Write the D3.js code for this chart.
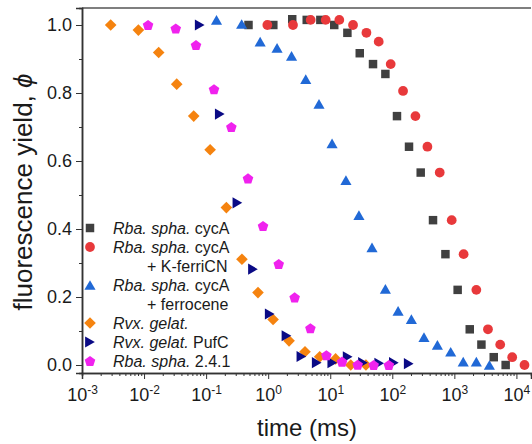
<!DOCTYPE html>
<html>
<head>
<meta charset="utf-8">
<script src="https://cdn.jsdelivr.net/npm/d3@7"></script>
<style>
  body { margin: 0; background: #fff; }
  svg text { font-family: "Liberation Sans", Arial, sans-serif; fill: #1a1a1a; }
</style>
</head>
<body>
<svg id="chart" width="532" height="444"></svg>
<script>
// time in ms, fluorescence yield
const cycA_t = [0.482, 1.21, 2.44, 4.18, 6.93, 11.6, 18.9, 29.9, 48.9, 77.4, 119, 186, 287, 453, 718, 1130, 1770, 2730, 4310, 6710]
const cycA_y = [1.0, 1.0, 1.017, 1.015, 1.015, 1.0, 0.977, 0.917, 0.885, 0.856, 0.732, 0.642, 0.566, 0.426, 0.326, 0.221, 0.105, 0.060, 0.023, 0.0]

const ferriCN_t = [0.97, 2.51, 4.84, 8.45, 14.0, 23.3, 38.3, 60.4, 94.2, 149, 236, 368, 581, 906, 1410, 2260, 3480, 5480, 8550, 13500]
const ferriCN_y = [1.0, 1.0, 1.015, 1.015, 1.015, 1.0, 0.977, 0.951, 0.885, 0.806, 0.732, 0.642, 0.566, 0.426, 0.326, 0.221, 0.105, 0.060, 0.023, 0.0]

const ferrocene_t = [0.147, 0.374, 0.743, 1.39, 2.38, 4.03, 6.59, 10.7, 17.9, 29.0, 47.1, 77.4, 124, 203, 324, 533, 873, 1390, 2260, 3670]
const ferrocene_y = [1.015, 1.003, 0.951, 0.933, 0.909, 0.841, 0.768, 0.652, 0.544, 0.441, 0.346, 0.224, 0.159, 0.135, 0.082, 0.059, 0.039, 0.010, 0.010, 0.0]

const gelat_t = [0.0029, 0.0081, 0.0172, 0.0336, 0.0631, 0.116, 0.212, 0.378, 0.685, 1.20, 2.17, 3.92, 6.76, 12.2, 21.4, 37.6]
const gelat_y = [1.0, 0.985, 0.919, 0.826, 0.732, 0.633, 0.463, 0.311, 0.213, 0.134, 0.071, 0.039, 0.024, 0.018, 0.0, 0.0]

const pufC_t = [0.0789, 0.166, 0.319, 0.569, 1.06, 1.97, 3.43, 6.05, 10.8, 19.1, 33.7, 61.5, 106, 184]
const pufC_y = [1.0, 0.738, 0.477, 0.282, 0.150, 0.086, 0.025, 0.007, 0.007, 0.024, 0.007, 0.005, 0.007, 0.004]

const spha241_t = [0.0116, 0.0324, 0.0687, 0.134, 0.255, 0.473, 0.826, 1.48, 2.67, 4.79, 8.67, 15.5, 27.7, 50.1, 88.1]
const spha241_y = [1.0, 0.99, 0.941, 0.811, 0.700, 0.549, 0.409, 0.297, 0.199, 0.108, 0.029, 0.010, 0.001, 0.0, 0.0]

const yTicks = [0, 0.2, 0.4, 0.6, 0.8, 1.0]
const xExponents = [-3, -2, -1, 0, 1, 2, 3, 4]

// legend: italic part, plain part, continuation line
const legendItalic = ['Rba. spha.', 'Rba. spha.', 'Rba. spha.', 'Rvx. gelat.', 'Rvx. gelat.', 'Rba. spha.']
const legendPlain = [' cycA', ' cycA', ' cycA', '', ' PufC', ' 2.4.1']
const legendExtra = ['', '+ K-ferriCN', '+ ferrocene', '', '', '']

// custom symbols, centred on their bounding box
const triUp = { draw(ctx, size) {
  const s = Math.sqrt(size), h = s * 0.87
  ctx.moveTo(0, -h / 2); ctx.lineTo(s / 2, h / 2); ctx.lineTo(-s / 2, h / 2); ctx.closePath()
} }
const triRight = { draw(ctx, size) {
  const s = Math.sqrt(size), h = s * 0.87
  ctx.moveTo(h / 2, 0); ctx.lineTo(-h / 2, -s / 2); ctx.lineTo(-h / 2, s / 2); ctx.closePath()
} }
const diamond = { draw(ctx, size) {
  const a = Math.sqrt(size) / 2
  ctx.moveTo(0, -a); ctx.lineTo(a, 0); ctx.lineTo(0, a); ctx.lineTo(-a, 0); ctx.closePath()
} }
const pentagon = { draw(ctx, size) {
  const r = Math.sqrt(size) / 2
  for (let i = 0; i < 5; i++) {
    const ang = -Math.PI / 2 + i * 2 * Math.PI / 5
    const px = r * Math.cos(ang), py = r * Math.sin(ang) + r * 0.1
    if (i === 0) ctx.moveTo(px, py); else ctx.lineTo(px, py)
  }
  ctx.closePath()
} }

const series = [
  {t: cycA_t, y: cycA_y, color: '#404040', type: d3.symbolSquare, size: 72},
  {t: ferriCN_t, y: ferriCN_y, color: '#e8393b', type: d3.symbolCircle, size: 75},
  {t: ferrocene_t, y: ferrocene_y, color: '#2169d6', type: triUp, size: 124},
  {t: gelat_t, y: gelat_y, color: '#f5830f', type: diamond, size: 135},
  {t: pufC_t, y: pufC_y, color: '#0a0a85', type: triRight, size: 124},
  {t: spha241_t, y: spha241_y, color: '#f022ee', type: pentagon, size: 124}
]

const svg = d3.select('#chart')
const margin = {left: 82, top: 8, right: 531, bottom: 373}

const x = d3.scaleLog().domain([1e-3, 17180]).range([margin.left, margin.right])
const y = d3.scaleLinear().domain([-0.0235, 1.05]).range([margin.bottom, margin.top])

// frame
svg.append('line').attr('x1', margin.left).attr('x2', margin.right)
  .attr('y1', margin.top).attr('y2', margin.top)
  .attr('stroke', '#555').attr('stroke-width', 1.5)

// y axis
const yMinor = d3.range(0, 11).map(d => d / 10)
svg.append('g').attr('transform', `translate(${margin.left},0)`)
  .call(d3.axisLeft(y).tickValues(yMinor).tickSize(3).tickFormat(''))
svg.append('g').attr('class', 'yaxis').attr('transform', `translate(${margin.left},0)`)
  .call(d3.axisLeft(y).tickValues(yTicks).tickSize(6).tickPadding(4).tickFormat(d3.format('.1f')))
  .call(g => g.selectAll('text').style('font-size', '18px'))

// x axis
const xMinor = []
xExponents.forEach(e => { for (let k = 2; k <= 9; k++) { const v = k * Math.pow(10, e); if (v < 17180) xMinor.push(v) } })
svg.append('g').attr('transform', `translate(0,${margin.bottom})`)
  .call(d3.axisBottom(x).tickValues(xMinor).tickSize(3).tickFormat(''))
const xAxis = svg.append('g').attr('transform', `translate(0,${margin.bottom})`)
  .call(d3.axisBottom(x).tickValues(xExponents.map(e => Math.pow(10, e))).tickSize(6).tickFormat(''))
xAxis.selectAll('.tick').each(function(d, i) {
  const t = d3.select(this).append('text').attr('y', 28).attr('text-anchor', 'middle')
    .style('font-size', '18px').attr('fill', '#1a1a1a')
  t.append('tspan').text('10')
  t.append('tspan').attr('dy', -7).style('font-size', '12px').text(String(xExponents[i]))
})
svg.selectAll('.domain').attr('stroke', '#333').attr('stroke-width', 1.5)
svg.selectAll('.tick line').attr('stroke', '#333')

// axis titles
svg.append('text').attr('x', 307).attr('y', 436).attr('text-anchor', 'middle')
  .style('font-size', '24px').text('time (ms)')
const yl = svg.append('text').attr('transform', 'translate(32,192) rotate(-90)')
  .attr('text-anchor', 'middle').style('font-size', '26px')
yl.append('tspan').text('fluorescence yield, ')
yl.append('tspan').style('font-style', 'italic').text('\u03d5')

// data points
series.forEach(s => {
  svg.append('g').selectAll('path').data(s.t.map((t, i) => [t, s.y[i]])).enter()
    .append('path')
    .attr('transform', d => `translate(${x(d[0])},${y(d[1])})`)
    .attr('d', d3.symbol().type(s.type).size(s.size))
    .attr('fill', s.color)
})

// legend
const legend = svg.append('g')
let row = 0
series.forEach((s, i) => {
  const cy = 228 + row * 19
  legend.append('path').attr('transform', `translate(90,${cy})`)
    .attr('d', d3.symbol().type(s.type).size(s.size)).attr('fill', s.color)
  const t = legend.append('text').attr('x', 113).attr('y', cy + 5.5).style('font-size', '16px')
  t.append('tspan').style('font-style', 'italic').text(legendItalic[i])
  if (legendPlain[i]) t.append('tspan').text(legendPlain[i])
  row++
  if (legendExtra[i]) {
    legend.append('text').attr('x', 147).attr('y', 228 + row * 19 + 5.5)
      .style('font-size', '16px').text(legendExtra[i])
    row++
  }
})
</script>
</body>
</html>
